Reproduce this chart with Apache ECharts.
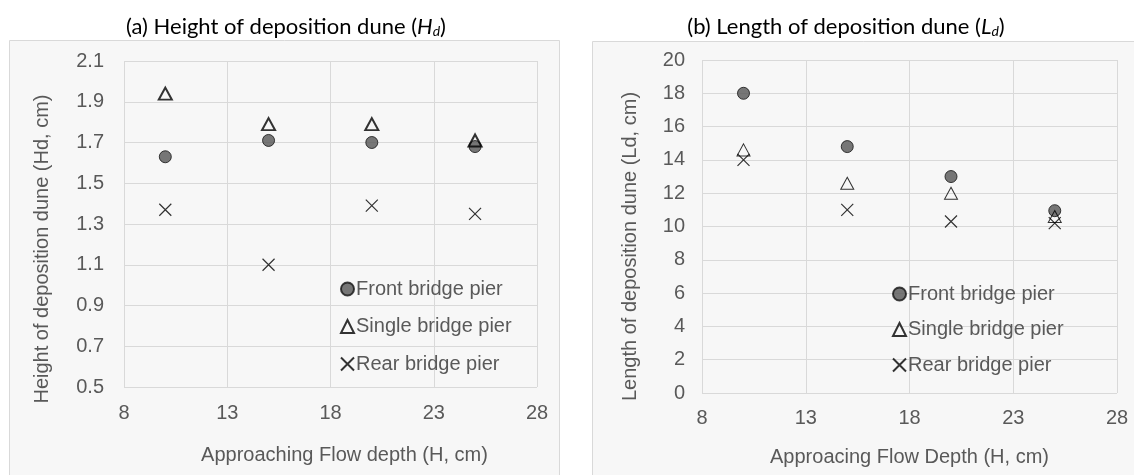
<!DOCTYPE html>
<html>
<head>
<meta charset="utf-8">
<script src="https://cdn.jsdelivr.net/npm/echarts@6/dist/echarts.min.js"></script>
<style>
html,body{margin:0;padding:0;background:#fff;}
#c{width:1134px;height:475px;}
</style>
</head>
<body>
<div id="c"></div>
<script>
// X values (approaching flow depth, cm)
const flowDepth = [10, 15, 20, 25];
// (a) Height of deposition dune (cm)
const heightFront  = [1.63, 1.71, 1.70, 1.68];
const heightSingle = [1.94, 1.79, 1.79, 1.71];
const heightRear   = [1.37, 1.10, 1.39, 1.35];
// (b) Length of deposition dune (cm)
const lengthFront  = [18.0, 14.8, 13.0, 10.95];
const lengthSingle = [14.6, 12.6, 12.0, 10.6];
const lengthRear   = [14.0, 11.0, 10.3, 10.2];
const seriesNames = ['Front bridge pier', 'Single bridge pier', 'Rear bridge pier'];

const pair = (ys) => flowDepth.map((x, i) => [x, ys[i]]);

const chart = echarts.init(document.getElementById('c'), null, {renderer: 'canvas'});
const axisFont = 'Liberation Sans, Arial, sans-serif';
const labelColor = '#595959';
const gridColor = '#d9d9d9';
const crossPath = 'path://M0,0L10,10M10,0L0,10';

function xAxis(gridIndex, name, nameGap, pad, margin) {
  return {
    type: 'value', gridIndex, min: 8, max: 28, interval: 5,
    name, nameLocation: 'middle', nameGap,
    nameTextStyle: {color: labelColor, fontSize: 20, fontFamily: axisFont, padding: pad},
    axisLine: {show: false}, axisTick: {show: false},
    axisLabel: {color: labelColor, fontSize: 20, fontFamily: axisFont, margin},
    splitLine: {show: true, lineStyle: {color: gridColor, width: 1}}
  };
}
function yAxis(gridIndex, name, min, max, interval, nameGap, pad, digits, margin) {
  return {
    type: 'value', gridIndex, min, max, interval,
    name, nameLocation: 'middle', nameGap, nameRotate: 90,
    nameTextStyle: {color: labelColor, fontSize: 20, fontFamily: axisFont, padding: pad},
    axisLine: {show: false}, axisTick: {show: false},
    axisLabel: {color: labelColor, fontSize: 20, fontFamily: axisFont, margin,
      formatter: v => Number(v).toFixed(digits)},
    splitLine: {show: true, lineStyle: {color: gridColor, width: 1}}
  };
}
function series(idx, data, triWidth) {
  return [
    {name: seriesNames[0], type: 'scatter', xAxisIndex: idx, yAxisIndex: idx, data: pair(data[0]),
     symbol: 'circle', symbolSize: 12,
     itemStyle: {color: '#555555', borderColor: '#111', borderWidth: 1}, z: 2},
    {name: seriesNames[1], type: 'scatter', xAxisIndex: idx, yAxisIndex: idx, data: pair(data[1]),
     symbol: 'triangle', symbolSize: [13, 12],
     itemStyle: {color: 'rgba(0,0,0,0)', borderColor: '#000', borderWidth: triWidth}, z: 3},
    {name: seriesNames[2], type: 'scatter', xAxisIndex: idx, yAxisIndex: idx, data: pair(data[2]),
     symbol: crossPath, symbolSize: 12,
     itemStyle: {color: 'rgba(0,0,0,0)', borderColor: '#000', borderWidth: 1.2}, z: 4}
  ];
}
function legend(left, top, gap) {
  return {
    orient: 'vertical', left, top, itemGap: gap, itemWidth: 13, itemHeight: 13,
    data: seriesNames.map(n => ({name: n})),
    textStyle: {color: labelColor, fontSize: 20, fontFamily: axisFont, padding: [0, 0, 0, -3]},
    selectedMode: false
  };
}

const tFont = 'Lato, Carlito, sans-serif';
const titleRich = {
  t: {fontSize: 22, fontFamily: tFont, color: '#000', fontWeight: 'normal'},
  it: {fontSize: 22, fontFamily: tFont, color: '#000', fontWeight: 'normal', fontStyle: 'italic'},
  sub: {fontSize: 14, fontFamily: tFont, color: '#000', fontWeight: 'normal', fontStyle: 'italic', verticalAlign: 'bottom', padding: [9, 0, 0, 0]}
};

const option = {
  animation: false,
  backgroundColor: '#ffffff',
  graphic: [
    {type: 'rect', shape: {x: 9.5, y: 40.5, width: 550, height: 440}, style: {fill: '#f7f7f7', stroke: '#d9d9d9', lineWidth: 1}, z: -10},
    {type: 'rect', shape: {x: 592.5, y: 41.5, width: 550, height: 440}, style: {fill: '#f7f7f7', stroke: '#d9d9d9', lineWidth: 1}, z: -10}
  ],
  title: [
    {text: '{t|(a) Height of deposition dune (}{it|H}{sub|d}{t|)}', left: 281, top: 10, textAlign: 'center',
     textStyle: {fontWeight: 'normal', rich: titleRich}},
    {text: '{t|(b) Length of deposition dune (}{it|L}{sub|d}{t|)}', left: 841, top: 10, textAlign: 'center',
     textStyle: {fontWeight: 'normal', rich: titleRich}}
  ],
  grid: [
    {left: 124, top: 61, width: 413, height: 326},
    {left: 702, top: 60, width: 415, height: 333}
  ],
  xAxis: [
    xAxis(0, 'Approaching Flow depth (H, cm)', 58, [0, 0, 0, 28], 16),
    xAxis(1, 'Approacing Flow Depth (H, cm)', 54, [0, 0, 0, 0], 15)
  ],
  yAxis: [
    yAxis(0, 'Height of deposition dune (Hd, cm)', 0.5, 2.1, 0.2, 72, [0, 50, 0, 0], 1, 20),
    yAxis(1, 'Length of deposition dune (Ld, cm)', 0, 20, 2, 62, [0, 40, 0, 0], 0, 17)
  ],
  legend: [
    legend(335, 274, 17.5),
    legend(887, 279, 15.5)
  ],
  series: [
    ...series(0, [heightFront, heightSingle, heightRear], 2),
    ...series(1, [lengthFront, lengthSingle, lengthRear], 1)
  ]
};
chart.setOption(option);
</script>
</body>
</html>
